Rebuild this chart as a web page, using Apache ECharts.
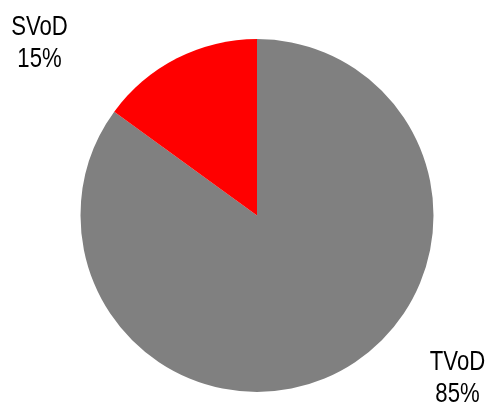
<!DOCTYPE html>
<html>
<head>
<meta charset="utf-8">
<script src="https://cdn.jsdelivr.net/npm/echarts@6/dist/echarts.min.js"></script>
<style>
  html, body { margin: 0; padding: 0; background: #ffffff; }
  #chart { width: 487px; height: 403px; }
</style>
</head>
<body>
<div id="chart"></div>
<script>
// Share of video-on-demand revenue by model
const categories = ['TVoD', 'SVoD'];
const shares = [85, 15];
const sliceColors = ['#808080', '#ff0000'];
// Where each label block sits (centre of the two-line text)
const labelSpots = [[457.5, 378.5], [39.5, 43.5]];

const chart = echarts.init(document.getElementById('chart'), null, { renderer: 'canvas' });

const total = shares.reduce((a, b) => a + b, 0);

// Condensed two-line labels: name over percentage
const labelTexts = categories.map((name, i) => ({
  type: 'text',
  x: labelSpots[i][0],
  y: labelSpots[i][1],
  scaleX: 0.82,
  silent: true,
  style: {
    text: name + '\n' + Math.round(shares[i] / total * 100) + '%',
    font: '27px "Liberation Sans", Arial, sans-serif',
    lineHeight: 32.5,
    fill: '#000000',
    align: 'center',
    verticalAlign: 'middle'
  }
}));

chart.setOption({
  animation: false,
  backgroundColor: '#ffffff',
  graphic: labelTexts,
  series: [{
    type: 'pie',
    center: [257, 215.5],
    radius: 176.5,
    startAngle: 90,
    clockwise: true,
    silent: true,
    emphasis: { disabled: true },
    itemStyle: { borderWidth: 0 },
    label: { show: false },
    labelLine: { show: false },
    data: categories.map((name, i) => ({
      name: name,
      value: shares[i],
      itemStyle: { color: sliceColors[i] }
    }))
  }]
});
</script>
</body>
</html>
